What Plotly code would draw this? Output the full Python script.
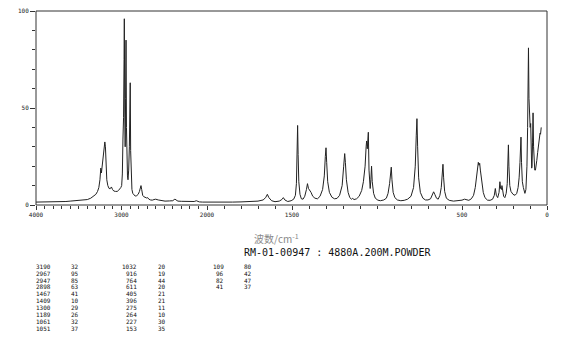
import plotly.graph_objects as go

# ---------------- data ----------------
# spectrum, high-wavenumber part (4000-2000 cm-1)
wn_hi = [4000, 3900, 3800, 3700, 3650, 3600, 3550, 3500, 3450, 3400, 3360, 3330, 3300, 3280,
         3265, 3252, 3242, 3235, 3228, 3218, 3205, 3195, 3188, 3180, 3172, 3160, 3145, 3132,
         3118, 3105, 3090, 3070, 3050, 3035, 3020, 3008, 2998, 2990, 2983, 2976, 2970, 2967,
         2962, 2957, 2952, 2947, 2942, 2936, 2930, 2924, 2916, 2908, 2902, 2898, 2893, 2886,
         2878, 2868, 2855, 2840, 2822, 2805, 2790, 2780, 2772, 2764, 2752, 2740, 2720, 2705,
         2694, 2680, 2660, 2640, 2620, 2600, 2570, 2530, 2491, 2440, 2400, 2384, 2374, 2362,
         2340, 2300, 2250, 2199, 2150, 2125, 2110, 2090, 2050, 2000]
int_hi = [1.5, 1.5, 1.5, 1.6, 1.8, 2.0, 2.2, 2.3, 2.5, 2.8, 3.5, 4.5, 5.5, 7.0,
          9.0, 13.0, 19.0, 16.5, 19.0, 24.0, 29.0, 32.5, 30.0, 20.0, 13.0, 10.0, 8.5, 8.4,
          9.3, 8.0, 7.2, 7.0, 7.0, 7.5, 8.2, 9.0, 10.0, 16.0, 34.0, 45.0, 75.0, 96.0,
          50.0, 30.0, 55.0, 85.0, 40.0, 20.0, 15.0, 13.0, 18.0, 30.0, 45.0, 63.0, 28.0, 14.0,
          8.0, 6.0, 5.0, 4.6, 4.8, 5.5, 7.0, 9.0, 10.0, 8.0, 5.0, 4.3, 3.8, 3.6,
          3.8, 3.0, 2.6, 2.5, 2.8, 3.0, 2.6, 2.2, 2.0, 2.1, 2.2, 2.8, 3.0, 2.6,
          2.0, 1.9, 1.8, 1.7, 1.8, 2.2, 1.9, 1.6, 1.5, 1.5]

# spectrum, low-wavenumber part (2000-0 cm-1)
wn_lo = [2000, 1950, 1900, 1850, 1800, 1750, 1700, 1670, 1655, 1645, 1636, 1620, 1600, 1575,
         1560, 1551, 1542, 1525, 1505, 1490, 1480, 1474, 1470, 1467, 1464, 1460, 1453, 1445,
         1435, 1425, 1415, 1409, 1403, 1395, 1388, 1378, 1365, 1350, 1335, 1320, 1310, 1304,
         1300, 1296, 1290, 1280, 1265, 1250, 1235, 1220, 1205, 1196, 1190, 1186, 1180, 1170,
         1160, 1150, 1143, 1135, 1120, 1105, 1090, 1080, 1070, 1064, 1061, 1057, 1053, 1051,
         1047, 1043, 1040, 1036, 1032, 1028, 1020, 1010, 995, 980, 960, 945, 935, 926,
         920, 916, 912, 905, 895, 880, 860, 840, 820, 800, 785, 775, 769, 765,
         761, 755, 745, 730, 715, 700, 685, 675, 667, 660, 650, 640, 630, 622,
         616, 612, 608, 602, 592, 575, 550, 520, 500, 485, 475, 460, 445, 432,
         422, 414, 408, 404, 400, 396, 392, 385, 375, 365, 350, 335, 320, 310,
         304, 298, 290, 282, 277, 273, 268, 265, 261, 255, 248, 240, 234, 230,
         227, 224, 219, 212, 200, 188, 178, 170, 164, 159, 155, 153, 150, 145,
         139, 130, 124, 118, 114, 111, 109, 106, 102, 99, 96, 93, 90, 88,
         85, 82, 79, 76, 72, 68, 64, 60, 55, 50, 45, 41, 38, 36, 34]
int_lo = [1.5, 1.4, 1.6, 1.5, 1.6, 1.7, 2.0, 2.6, 3.8, 5.5, 3.8, 2.2, 1.7, 2.0,
          2.8, 3.8, 2.6, 1.8, 2.2, 3.0, 5.0, 11.0, 25.0, 41.0, 26.0, 12.0, 5.5, 3.2,
          3.0, 4.5, 8.0, 11.0, 8.5, 7.5, 6.5, 4.5, 3.5, 3.2, 4.5, 8.0, 15.0, 25.0,
          29.5, 22.0, 12.0, 6.5, 4.0, 3.2, 3.4, 5.0, 10.0, 20.0, 26.5, 22.0, 13.0, 6.5,
          3.8, 3.0, 3.4, 2.8, 3.2, 4.5, 7.5, 12.0, 20.0, 30.0, 33.0, 29.0, 35.0, 37.5,
          18.0, 10.0, 8.5, 13.0, 20.0, 12.0, 6.0, 3.5, 2.5, 2.2, 2.6, 3.5, 6.0, 11.0,
          17.0, 19.5, 13.0, 6.5, 3.8, 2.6, 2.2, 2.4, 3.0, 4.5, 9.0, 20.0, 36.0, 44.5,
          30.0, 14.0, 6.5, 3.5, 2.6, 2.6, 3.2, 5.0, 6.8, 5.5, 3.5, 3.0, 5.0, 9.0,
          16.0, 21.0, 14.0, 7.0, 3.5, 2.4, 2.0, 2.2, 2.5, 3.0, 2.6, 2.4, 3.2, 5.0,
          9.0, 16.0, 21.5, 22.0, 20.5, 21.5, 18.0, 12.0, 6.5, 3.8, 2.5, 2.4, 3.0, 5.0,
          8.5, 5.0, 3.8, 6.5, 12.0, 8.5, 8.0, 10.0, 7.0, 4.5, 3.8, 6.0, 11.0, 20.0,
          31.0, 20.0, 10.0, 7.0, 5.5, 5.0, 6.0, 9.0, 14.0, 22.0, 32.0, 35.0, 22.0, 12.0,
          9.0, 6.0, 8.0, 20.0, 40.0, 60.0, 81.0, 55.0, 45.0, 40.0, 42.0, 30.0, 19.0, 20.0,
          32.0, 47.5, 30.0, 22.0, 18.0, 18.0, 20.0, 23.0, 27.0, 31.0, 34.0, 37.0, 36.5, 38.0, 40.0]

# peak table
peak_wn = [3190, 2967, 2947, 2898, 1467, 1409, 1300, 1189, 1061, 1051,
           1032, 916, 764, 611, 405, 396, 275, 264, 227, 153,
           109, 96, 82, 41]
peak_int = [32, 95, 85, 63, 41, 10, 29, 26, 32, 37,
            20, 19, 44, 20, 21, 21, 11, 10, 30, 35,
            80, 42, 47, 37]

hi_ticks = [4000, 3000]
lo_ticks = [2000, 1500, 500, 0]
y_ticks = [0, 50, 100]

title_text = "波数/cm<sup>-1</sup>"
sample_text = "RM-01-00947 : 4880A.200M.POWDER"

# ---------------- layout geometry (pixels) ----------------
W, H = 570, 346
L, R, T, B = 36, 547, 7, 205
split = (207 - L) / (R - L)

def px2paper(px, py):
    return (px - L) / (R - L), (B - py) / (B - T)

line_col = "#222222"
frame_col = "#333333"
mono = "DejaVu Sans Mono"

fig = go.Figure()
fig.add_trace(go.Scatter(x=wn_hi, y=int_hi, mode="lines", xaxis="x", yaxis="y",
                         line=dict(color=line_col, width=1), hoverinfo="skip", showlegend=False))
fig.add_trace(go.Scatter(x=wn_lo, y=int_lo, mode="lines", xaxis="x2", yaxis="y",
                         line=dict(color=line_col, width=1), hoverinfo="skip", showlegend=False))

axis_common = dict(showgrid=False, zeroline=False, showline=False, ticks="outside",
                   tickcolor=frame_col, ticklen=4, tickwidth=1,
                   tickfont=dict(family=mono, size=6, color="#222"))

fig.update_layout(
    width=W, height=H,
    margin=dict(l=L, r=W - R, t=T, b=H - B, pad=0),
    paper_bgcolor="white", plot_bgcolor="white",
    showlegend=False,
    xaxis=dict(domain=[0, split], range=[4000, 2000], anchor="y",
               tickmode="array", tickvals=hi_ticks, ticktext=[str(v) for v in hi_ticks],
               minor=dict(dtick=100, tick0=0, ticks="outside", ticklen=3,
                          tickcolor=frame_col, showgrid=False),
               **axis_common),
    xaxis2=dict(domain=[split, 1], range=[2000, 0], anchor="y",
                tickmode="array", tickvals=lo_ticks, ticktext=[str(v) for v in lo_ticks],
                minor=dict(dtick=100, tick0=0, ticks="outside", ticklen=3,
                           tickcolor=frame_col, showgrid=False),
                **axis_common),
    yaxis=dict(range=[0, 100], anchor="x",
               tickmode="array", tickvals=y_ticks, ticktext=[str(v) for v in y_ticks],
               minor=dict(dtick=10, tick0=0, ticks="outside", ticklen=3,
                          tickcolor=frame_col, showgrid=False),
               **{**axis_common, "ticklen": 5}),
)

fig.add_shape(type="rect", xref="paper", yref="paper", x0=0, x1=1, y0=0, y1=1,
              line=dict(color=frame_col, width=1), fillcolor="rgba(0,0,0,0)", layer="above")

ax, ay = px2paper(276, 239)
fig.add_annotation(text=title_text, xref="paper", yref="paper", x=ax, y=ay,
                   xanchor="center", yanchor="middle", showarrow=False, borderpad=0,
                   font=dict(family="Noto Sans CJK SC", size=10, color="#888888"))
ax, ay = px2paper(243, 253)
fig.add_annotation(text=sample_text, xref="paper", yref="paper", x=ax, y=ay,
                   xanchor="left", yanchor="middle", showarrow=False, borderpad=0,
                   font=dict(family=mono, size=10, color="#111111"))

# peak table
col_right = [(52, 80), (138, 167), (225, 253)]
for i, (w, v) in enumerate(zip(peak_wn, peak_int)):
    g, r = divmod(i, 10)
    py = 267.5 + 7.04 * r
    for px, txt in ((col_right[g][0], str(w)), (col_right[g][1], str(v))):
        ax, ay = px2paper(px, py)
        fig.add_annotation(text=txt, xref="paper", yref="paper", x=ax, y=ay,
                           xanchor="right", yanchor="middle", showarrow=False, borderpad=0,
                           font=dict(family=mono, size=6, color="#111111"))

fig.write_html("out.html")
